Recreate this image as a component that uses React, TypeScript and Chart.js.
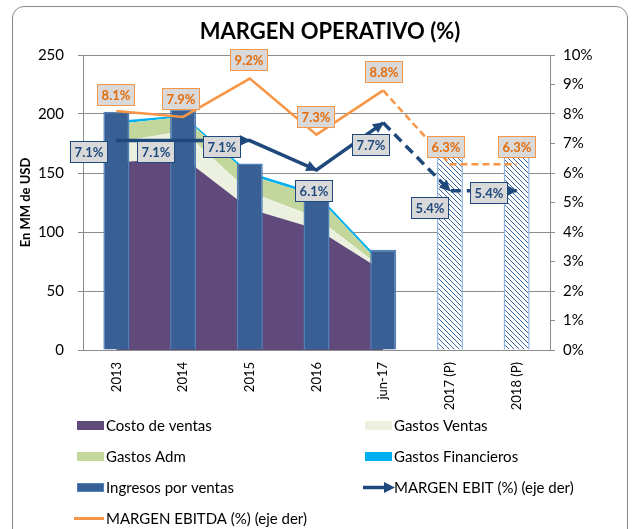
import React, { useEffect, useRef } from 'react';
import { Chart, registerables } from 'chart.js';

Chart.register(...registerables);

// ---- data ----
const categories = ['2013', '2014', '2015', '2016', 'jun-17', '2017 (P)', '2018 (P)'];
const projected = [false, false, false, false, false, true, true];
const costoVentas = [159, 163, 119.5, 102.5, 67, null, null];
const gastosVentas = [17, 22.5, 14.5, 10, 1.7, null, null];
const gastosAdm = [15.5, 12, 14, 18, 2, null, null];
const gastosFinancieros = [2.5, 1.5, 2.5, 2.5, 2.5, null, null];
const ingresosVentas = [202, 204, 158, 136, 85, 164, 164];
const margenEbit = [7.1, 7.1, 7.1, 6.1, 7.7, 5.4, 5.4];
const margenEbitda = [8.1, 7.9, 9.2, 7.3, 8.8, 6.3, 6.3];
const leftAxisMax = 250;
const leftAxisStep = 50;
const rightAxisMax = 10;
const rightAxisStep = 1;

// ---- styling / label placement ----
const ebitLabelOffsets = [[-28, 11], [-28, 11], [-28, 6], [-3, 20], [-13, 22], [-20, 17], [-28, 2]];
const ebitdaLabelOffsets = [[-1, -17], [-3, -18], [-1, -19], [-1, -18], [0, -19], [-4, -18], [0, -18]];

const FONT = 'Lato, "Open Sans", sans-serif';
const C = {
  costo: '#604A7B',
  ventas: '#EBF1DE',
  adm: '#C3D69B',
  fin: '#00B0F0',
  bar: '#386094',
  barBorder: '#4F81BD',
  hatchBorder: '#8DB4E2',
  ebit: '#1F497D',
  ebitda: '#F79646',
  ebitdaText: '#E46C0A',
  labelFill: '#D9D9D9',
  grid: '#8c8c8c',
};

function makeHatch(): CanvasPattern | string {
  const c = document.createElement('canvas');
  c.width = 5;
  c.height = 5;
  const g = c.getContext('2d');
  if (!g) return '#ffffff';
  g.fillStyle = '#ffffff';
  g.fillRect(0, 0, 5, 5);
  g.strokeStyle = '#3A66A0';
  g.lineWidth = 1;
  g.beginPath();
  g.moveTo(-1, -1); g.lineTo(6, 6);
  g.moveTo(-1, 4); g.lineTo(1, 6);
  g.moveTo(4, -1); g.lineTo(6, 1);
  g.stroke();
  return g.createPattern(c, 'repeat') || '#ffffff';
}

function drawArrow(ctx: CanvasRenderingContext2D, x0: number, y0: number, x1: number, y1: number, len: number, hw: number, color: string) {
  const a = Math.atan2(y1 - y0, x1 - x0);
  ctx.save();
  ctx.translate(x1, y1);
  ctx.rotate(a);
  ctx.fillStyle = color;
  ctx.beginPath();
  ctx.moveTo(1, 0);
  ctx.lineTo(-len, -hw);
  ctx.lineTo(-len, hw);
  ctx.closePath();
  ctx.fill();
  ctx.restore();
}

function drawLabel(ctx: CanvasRenderingContext2D, cx: number, cy: number, text: string, border: string, color: string) {
  const w = 37, h = 21;
  const x = Math.round(cx - w / 2) + 0.5, y = Math.round(cy - h / 2) + 0.5;
  ctx.save();
  ctx.fillStyle = C.labelFill;
  ctx.fillRect(x, y, w, h);
  ctx.strokeStyle = border;
  ctx.lineWidth = 1;
  ctx.strokeRect(x, y, w, h);
  ctx.fillStyle = color;
  ctx.font = `bold 13px ${FONT}`;
  ctx.textAlign = 'center';
  ctx.textBaseline = 'middle';
  ctx.fillText(text, x + w / 2, y + h / 2 + 0.5);
  ctx.restore();
}

const overlayPlugin = {
  id: 'overlay',
  afterDatasetsDraw(chart: any) {
    const ctx: CanvasRenderingContext2D = chart.ctx;
    const ebitMeta = chart.getDatasetMeta(5);
    const ebitdaMeta = chart.getDatasetMeta(6);
    // arrowheads at segment ends of EBIT line
    for (let i = 2; i < ebitMeta.data.length; i++) {
      const p0 = ebitMeta.data[i - 1];
      const p1 = ebitMeta.data[i];
      drawArrow(ctx, p0.x, p0.y, p1.x, p1.y, 10, 5.5, C.ebit);
    }
    ebitdaMeta.data.forEach((p: any, i: number) => {
      const [dx, dy] = ebitdaLabelOffsets[i];
      drawLabel(ctx, p.x + dx, p.y + dy, margenEbitda[i].toFixed(1) + '%', C.ebitda, C.ebitdaText);
    });
    ebitMeta.data.forEach((p: any, i: number) => {
      const [dx, dy] = ebitLabelOffsets[i];
      drawLabel(ctx, p.x + dx, p.y + dy, margenEbit[i].toFixed(1) + '%', C.ebit, C.ebit);
    });
  },
  afterDraw(chart: any) {
    const ctx: CanvasRenderingContext2D = chart.ctx;
    // title
    ctx.save();
    ctx.fillStyle = '#000';
    ctx.font = `bold 22px ${FONT}`;
    ctx.textAlign = 'center';
    ctx.textBaseline = 'middle';
    ctx.fillText('MARGEN OPERATIVO (%)', 330, 32);
    ctx.restore();

    // legend (2 columns)
    const ds = chart.data.datasets;
    const colX = [77, 365];
    const rowY = [425.5, 456.5, 487.5, 518.5];
    ctx.save();
    ctx.font = `15px ${FONT}`;
    ctx.textBaseline = 'middle';
    ctx.textAlign = 'left';
    for (let i = 0; i < 7; i++) {
      const x = colX[i % 2];
      const y = rowY[Math.floor(i / 2)];
      const d = ds[i];
      if (i <= 3) {
        ctx.fillStyle = d.backgroundColor;
        ctx.fillRect(x, y - 4.5, 27, 9);
      } else if (i === 4) {
        ctx.fillStyle = C.bar;
        ctx.fillRect(x, y - 4.5, 27, 9);
        ctx.strokeStyle = C.barBorder;
        ctx.lineWidth = 1;
        ctx.strokeRect(x + 0.5, y - 4, 26, 8);
      } else if (i === 5) {
        ctx.strokeStyle = C.ebit;
        ctx.lineWidth = 3.5;
        ctx.beginPath();
        ctx.moveTo(x - 2, y);
        ctx.lineTo(x + 20, y);
        ctx.stroke();
        drawArrow(ctx, x, y, x + 29, y, 10, 5.5, C.ebit);
      } else {
        ctx.strokeStyle = C.ebitda;
        ctx.lineWidth = 3;
        ctx.beginPath();
        ctx.moveTo(x - 3, y);
        ctx.lineTo(x + 27, y);
        ctx.stroke();
      }
      ctx.fillStyle = '#000';
      ctx.fillText(d.label, x + 29, y + 0.5);
    }
    ctx.restore();
  },
};

export default function App() {
  const canvasRef = useRef<HTMLCanvasElement | null>(null);

  useEffect(() => {
    let chart: Chart | null = null;
    let cancelled = false;
    const build = () => {
      if (cancelled || !canvasRef.current) return;
      const hatch = makeHatch();
      const barFill = projected.map((p) => (p ? hatch : C.bar));
      const barBorder = projected.map((p) => (p ? C.hatchBorder : C.barBorder));
      const dashed = (dash: number[]) => (ctx: any) => (projected[ctx.p1DataIndex] ? dash : undefined);
      chart = new Chart(canvasRef.current, {
        type: 'bar',
        data: {
          labels: categories,
          datasets: [
            { type: 'line', label: 'Costo de ventas', data: costoVentas, backgroundColor: C.costo, borderWidth: 0, pointRadius: 0, fill: 'origin', stack: 'costs', yAxisID: 'y', order: 10, spanGaps: false } as any,
            { type: 'line', label: 'Gastos Ventas', data: gastosVentas, backgroundColor: C.ventas, borderWidth: 0, pointRadius: 0, fill: '-1', stack: 'costs', yAxisID: 'y', order: 10, spanGaps: false } as any,
            { type: 'line', label: 'Gastos Adm', data: gastosAdm, backgroundColor: C.adm, borderWidth: 0, pointRadius: 0, fill: '-1', stack: 'costs', yAxisID: 'y', order: 10, spanGaps: false } as any,
            { type: 'line', label: 'Gastos Financieros', data: gastosFinancieros, backgroundColor: C.fin, borderWidth: 0, pointRadius: 0, fill: '-1', stack: 'costs', yAxisID: 'y', order: 10, spanGaps: false } as any,
            { type: 'bar', label: 'Ingresos por ventas', data: ingresosVentas, backgroundColor: barFill, borderColor: barBorder, borderWidth: 1.5, stack: 'income', yAxisID: 'y', order: 5, categoryPercentage: 1, barPercentage: 0.39 } as any,
            { type: 'line', label: 'MARGEN EBIT (%) (eje der)', data: margenEbit, borderColor: C.ebit, backgroundColor: C.ebit, borderWidth: 3.5, pointRadius: 0, fill: false, yAxisID: 'y1', order: 1, segment: { borderDash: dashed([10, 6]) } } as any,
            { type: 'line', label: 'MARGEN EBITDA (%) (eje der)', data: margenEbitda, borderColor: C.ebitda, backgroundColor: C.ebitda, borderWidth: 2.5, pointRadius: 0, fill: false, yAxisID: 'y1', order: 2, segment: { borderDash: dashed([7, 4]) } } as any,
          ],
        },
        options: {
          animation: false,
          responsive: false,
          layout: { padding: { top: 55, left: 0, right: 0, bottom: 0 } },
          plugins: {
            legend: { display: false },
            title: { display: false },
            tooltip: { enabled: false },
          },
          scales: {
            x: {
              stacked: false,
              grid: { display: false, drawTicks: false },
              border: { display: true, color: C.grid },
              ticks: { minRotation: 90, maxRotation: 90, padding: 12, color: '#000', font: { family: FONT, size: 13 } },
              afterFit: (s: any) => { s.height = 179; },
            },
            y: {
              position: 'left',
              stacked: true,
              min: 0,
              max: leftAxisMax,
              ticks: { stepSize: leftAxisStep, padding: 14, color: '#000', font: { family: FONT, size: 15 } },
              grid: { color: C.grid, tickLength: 5, drawTicks: true },
              border: { display: true, color: C.grid },
              title: { display: true, text: 'En MM de USD', color: '#000', font: { family: FONT, size: 13, weight: 'bold' }, padding: { top: 18, bottom: 0 } },
              afterFit: (s: any) => { s.width = 83; },
            },
            y1: {
              position: 'right',
              stacked: false,
              min: 0,
              max: rightAxisMax,
              ticks: { stepSize: rightAxisStep, padding: 8, color: '#000', font: { family: FONT, size: 15 }, callback: (v: any) => v + '%' },
              grid: { drawOnChartArea: false, color: C.grid, tickLength: 5, drawTicks: true },
              border: { display: true, color: C.grid },
              afterFit: (s: any) => { s.width = 82; },
            },
          },
        } as any,
        plugins: [overlayPlugin],
      });
    };
    const fonts = (document as any).fonts;
    if (fonts && fonts.load) {
      Promise.all([
        fonts.load(`12px Lato`),
        fonts.load(`bold 12px Lato`),
      ]).then(build, build);
    } else {
      build();
    }
    return () => {
      cancelled = true;
      if (chart) chart.destroy();
    };
  }, []);

  return (
    <div style={{ position: 'fixed', left: 0, top: 0, width: 632, height: 529, background: '#fff', overflow: 'hidden' }}>
      <canvas ref={canvasRef} width={632} height={529} style={{ position: 'absolute', left: 0, top: 0, width: 632, height: 529 }} />
      <div style={{ position: 'absolute', left: 12, top: 6, width: 614, height: 560, border: '1.5px solid #8a8a8a', borderRadius: 12, pointerEvents: 'none' }} />
    </div>
  );
}
